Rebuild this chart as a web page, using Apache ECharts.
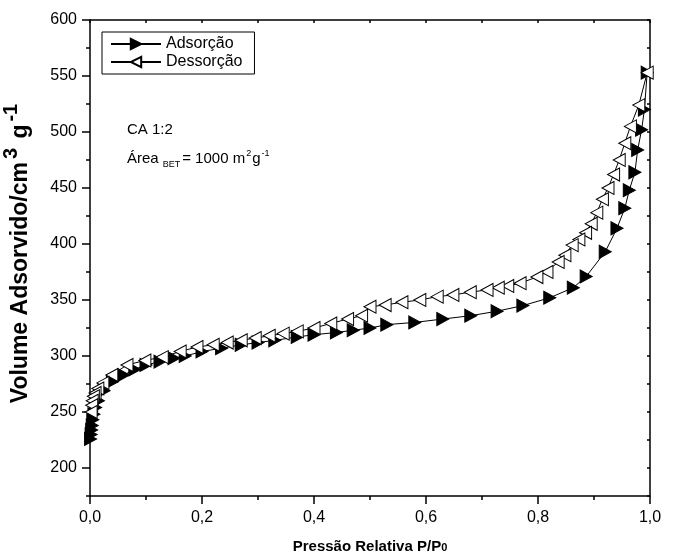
<!DOCTYPE html>
<html><head><meta charset="utf-8">
<script src="https://cdn.jsdelivr.net/npm/echarts@6/dist/echarts.min.js"></script>
<style>html,body{margin:0;padding:0;background:#fff}#c{width:675px;height:559px}</style>
</head><body><div id="c"></div>
<script>
const adsP = [0.001,0.002,0.003,0.004,0.005,0.007,0.01,0.015,0.025,0.04,0.06,0.08,0.1,0.125,0.15,0.17,0.2,0.235,0.27,0.3,0.33,0.37,0.4,0.44,0.47,0.5,0.53,0.58,0.63,0.68,0.727,0.773,0.821,0.863,0.886,0.92,0.941,0.955,0.963,0.973,0.978,0.985,0.99,0.995];
const adsV = [226,230,234,238,243,248,254,260,269,277,283,288,292,295,298,300,304,307,310,312,314,317,319,321,323,325,328,330,333,336,340,345,352,361,371,393,414,432,448,464,484,502,520,553];
const desP = [0.995,0.98,0.965,0.955,0.945,0.935,0.925,0.915,0.905,0.895,0.885,0.873,0.861,0.848,0.836,0.816,0.798,0.768,0.746,0.729,0.709,0.679,0.648,0.62,0.589,0.557,0.527,0.5,0.485,0.46,0.43,0.4,0.37,0.345,0.32,0.295,0.27,0.245,0.22,0.191,0.161,0.129,0.098,0.066,0.039,0.023,0.014,0.009,0.006,0.004,0.003,0.002];
const desV = [553,524,505,490,475,462,450,440,428,418,410,404,399,390,384,375,370.5,365,362.5,361,359,357,354.5,353,350,348,345.5,344,336,333,329,325,322,320,318,316,314,312,310,308,304,299,296,292,283,276,271,267,264,260,256,250];
const yLabels = [200,250,300,350,400,450,500,550,600];
const yMinor = [175,225,275,325,375,425,475,525,575];
const yAll = [175,200,225,250,275,300,325,350,375,400,425,450,475,500,525,550,575,600];

const F = 'Liberation Sans, Arial, sans-serif';
const chart = echarts.init(document.getElementById('c'));
const pairs = (a,b)=>a.map((x,i)=>[x,b[i]]);
const rightTri = 'path://M0,0 L10,5 L0,10 Z';
const leftTri = 'path://M10,0 L0,5 L10,10 Z';
const axLine = {show:true, lineStyle:{color:'#000', width:1.5}};
chart.setOption({
  animation:false,
  grid:{left:90, right:25, top:20, bottom:63, containLabel:false, outerBoundsMode:'none'},
  legend:{
    left:102, top:32, orient:'vertical', itemGap:2,
    borderColor:'#000', borderWidth:1, padding:[4,12,4,8],
    itemWidth:50, itemHeight:13,
    textStyle:{fontFamily:F, fontSize:16, color:'#000'},
    data:['Adsorção','Dessorção']
  },
  xAxis:[
    {type:'value', min:0, max:1, interval:0.2, position:'bottom',
     axisLine:axLine, splitLine:{show:false},
     axisTick:{show:true, inside:false, length:8, lineStyle:{color:'#000', width:1.5}},
     minorTick:{show:true, splitNumber:2, length:4, lineStyle:{color:'#000', width:1.5}},
     axisLabel:{fontFamily:F, fontSize:16, color:'#000', margin:14,
       formatter:v=>v.toFixed(1).replace('.',',')},
     name:'{a|Pressão Relativa P/P}{b|0}', nameLocation:'middle', nameGap:43,
     nameTextStyle:{rich:{a:{fontFamily:F, fontSize:15, fontWeight:'bold', color:'#000'},
                           b:{fontFamily:F, fontSize:11, fontWeight:'bold', color:'#000', padding:[3,0,0,0]}}}},
    {type:'value', min:0, max:1, interval:0.1, position:'top',
     axisLine:axLine, splitLine:{show:false},
     axisTick:{show:true, inside:true, length:3, lineStyle:{color:'#000', width:1.5}},
     axisLabel:{show:false}}
  ],
  yAxis:[
    {type:'value', min:175, max:600, position:'left',
     axisLine:axLine, splitLine:{show:false},
     axisTick:{show:true, inside:false, length:8, customValues:yLabels, lineStyle:{color:'#000', width:1.5}},
     axisLabel:{fontFamily:F, fontSize:16, color:'#000', margin:13, customValues:yLabels},
     name:'{a|Volume Adsorvido/cm}{s|3}{a| g}{s|-1}', nameLocation:'middle', nameGap:49, nameRotate:90,
     nameTextStyle:{padding:[0,0,0,12], rich:{a:{fontFamily:F, fontSize:23, fontWeight:'bold', color:'#000'},
                           s:{fontFamily:F, fontSize:20, fontWeight:'bold', color:'#000', padding:[0,3,20,3]}}}},
    {type:'value', min:175, max:600, position:'left',
     axisLine:{show:false}, splitLine:{show:false},
     axisTick:{show:true, inside:false, length:4, customValues:yMinor, lineStyle:{color:'#000', width:1.5}},
     axisLabel:{show:false}},
    {type:'value', min:175, max:600, position:'right',
     axisLine:axLine, splitLine:{show:false},
     axisTick:{show:true, inside:true, length:3, customValues:yAll, lineStyle:{color:'#000', width:1.5}},
     axisLabel:{show:false}}
  ],
  series:[
    {name:'Adsorção', type:'line', xAxisIndex:0, yAxisIndex:0, data:pairs(adsP,adsV),
     symbol:rightTri, symbolSize:[12,13], showAllSymbol:true,
     lineStyle:{color:'#000', width:1}, itemStyle:{color:'#000', borderColor:'#000', borderWidth:1}, z:3},
    {name:'Dessorção', type:'line', xAxisIndex:0, yAxisIndex:0, data:pairs(desP,desV),
     symbol:leftTri, symbolSize:[12,13], showAllSymbol:true,
     lineStyle:{color:'#000', width:1}, itemStyle:{color:'#fff', borderColor:'#000', borderWidth:1}, z:4}
  ],
  graphic:[
    {type:'text', left:127, top:122, style:{text:'CA 1:2', font:'15px '+F, fill:'#000'}},
    {type:'text', left:127, top:149, style:{
      text:'{a|Área}{b|BET}{a|= 1000 m}{s|2}{a|g}{s|-1}',
      rich:{a:{fontFamily:F, fontSize:15, color:'#000'},
            b:{fontFamily:F, fontSize:9, color:'#000', padding:[12,2,0,4]},
            s:{fontFamily:F, fontSize:9, color:'#000', padding:[0,1,10,1]}}}}
  ]
});
</script></body></html>
